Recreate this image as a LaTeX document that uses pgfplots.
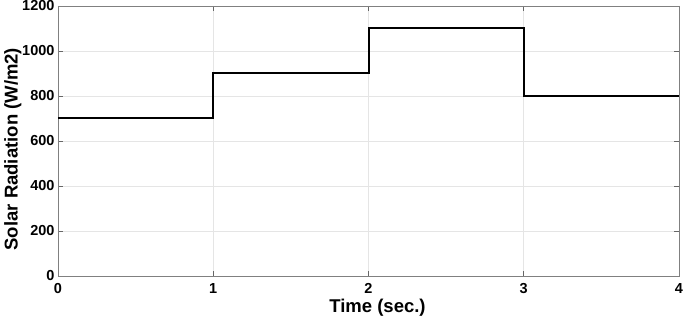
\documentclass[border=0pt]{standalone}
\usepackage{fontspec}
\setmainfont{Liberation Sans}
\usepackage{pgfplots}
\pgfplotsset{compat=1.18}
\newcommand{\tickfont}{\bfseries\fontsize{14.5}{16}\selectfont}
\begin{document}
\begin{tikzpicture}
\begin{axis}[
  name=ax,
  scale only axis,
  width=621pt, height=270pt,
  xmin=0, xmax=4, ymin=0, ymax=1200,
  xtick={0,1,2,3,4}, ytick={0,200,...,1200},
  /pgf/number format/assume math mode=true,
  /pgf/number format/1000 sep={},
  xticklabel={\tickfont\pgfmathprintnumber{\tick}},
  yticklabel={\tickfont\pgfmathprintnumber{\tick}},
  xlabel={Time (sec.)}, ylabel={Solar Radiation (W/m2)},
  xlabel style={font=\bfseries\fontsize{18.5}{20}\selectfont, at={([xshift=9pt,yshift=-20pt]axis description cs:0.5,0)}, anchor=north},
  ylabel style={font=\bfseries\fontsize{18.5}{20}\selectfont, at={([xshift=-33pt]axis description cs:0,0.47)}, anchor=south},
  yticklabel style={xshift=0pt},
  xticklabel style={yshift=-4pt},
  grid=major,
  major grid style={draw=black!10, line width=0.6pt},
  axis line style={draw=black!50, line width=0.8pt},
  tick style={draw=black!60, line width=0.8pt},
  tick align=inside,
  major tick length=5pt,
]
\addplot[const plot, black, line width=2pt] coordinates {
  (0,700) (1,900) (2,1100) (3,800) (4,800)
};
\end{axis}
\pgfresetboundingbox
\path[use as bounding box] ([shift={(-58pt,-42pt)}]ax.south west) rectangle ([shift={(6pt,6pt)}]ax.north east);
\end{tikzpicture}
\end{document}
